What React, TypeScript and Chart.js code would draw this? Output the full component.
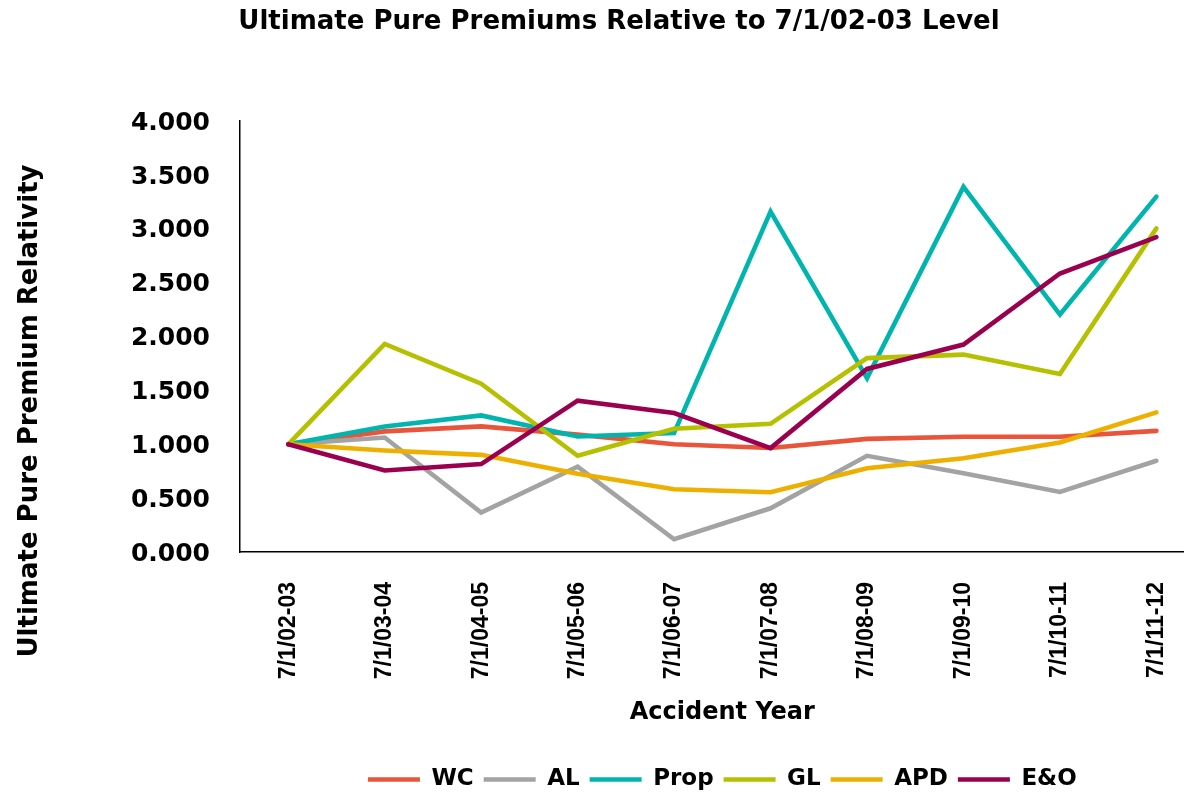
import React, { useEffect, useRef } from "react";
import { Chart, registerables } from "chart.js";

Chart.register(...registerables);

const chartTitle = "Ultimate Pure Premiums Relative to 7/1/02-03 Level";
const yAxisTitle = "Ultimate Pure Premium Relativity";
const xAxisTitle = "Accident Year";

const categories = [
  "7/1/02-03",
  "7/1/03-04",
  "7/1/04-05",
  "7/1/05-06",
  "7/1/06-07",
  "7/1/07-08",
  "7/1/08-09",
  "7/1/09-10",
  "7/1/10-11",
  "7/1/11-12",
];

const seriesNames = ["WC", "AL", "Prop", "GL", "APD", "E&O"];
const wcValues = [1.0, 1.12, 1.166, 1.09, 1.0, 0.965, 1.05, 1.07, 1.07, 1.125];
const alValues = [1.0, 1.063, 0.366, 0.793, 0.118, 0.406, 0.893, 0.732, 0.558, 0.847];
const propValues = [1.0, 1.166, 1.268, 1.073, 1.104, 3.16, 1.615, 3.39, 2.205, 3.3];
const glValues = [1.0, 1.932, 1.563, 0.893, 1.144, 1.19, 1.8, 1.833, 1.653, 3.005];
const apdValues = [1.0, 0.943, 0.902, 0.726, 0.583, 0.555, 0.778, 0.871, 1.017, 1.296];
const eoValues = [1.0, 0.757, 0.816, 1.405, 1.29, 0.965, 1.7, 1.926, 2.586, 2.924];
const seriesColors = ["#E8553A", "#A3A3A3", "#00B5AE", "#B5C100", "#EEB000", "#9B004F"];

const yMin = 0;
const yMax = 4;
const yStep = 0.5;

const yTitlePlugin = {
  id: "yTitleCustom",
  afterDraw(chart: any) {
    const ctx = chart.ctx;
    ctx.save();
    ctx.translate(30, 411);
    ctx.rotate(-Math.PI / 2);
    ctx.font = 'bold 26px "DejaVu Sans"';
    ctx.fillStyle = "#000";
    ctx.textAlign = "center";
    ctx.textBaseline = "middle";
    ctx.fillText(yAxisTitle, 0, 0);
    ctx.restore();
  },
};

export default function App() {
  const canvasRef = useRef<HTMLCanvasElement | null>(null);

  useEffect(() => {
    const canvas = canvasRef.current;
    if (!canvas) return;
    const allValues = [wcValues, alValues, propValues, glValues, apdValues, eoValues];
    const datasets = seriesNames.map((name, i) => ({
      label: name,
      data: allValues[i],
      borderColor: seriesColors[i],
      backgroundColor: seriesColors[i],
      borderWidth: 4.6,
      borderCapStyle: "round" as const,
      borderJoinStyle: "miter" as const,
      pointRadius: 0,
      pointHoverRadius: 0,
      tension: 0,
      fill: false,
      order: seriesNames.length - i,
    }));

    const chart = new Chart(canvas, {
      type: "line",
      data: { labels: categories, datasets },
      plugins: [yTitlePlugin],
      options: {
        responsive: false,
        animation: false,
        events: [],
        layout: { padding: { left: 24, right: 0, top: 0, bottom: -8 } },
        plugins: {
          title: {
            display: true,
            text: chartTitle,
            color: "#000",
            font: { family: "DejaVu Sans", size: 26, weight: "bold" },
            padding: { top: 7, bottom: 83 },
          },
          legend: {
            position: "bottom",
            fullSize: false,
            labels: {
              usePointStyle: true,
              pointStyle: "line",
              pointStyleWidth: 52,
              color: "#000",
              padding: 10,
              font: { family: "DejaVu Sans", size: 23, weight: "bold" },
              sort: (a: any, b: any) => a.datasetIndex - b.datasetIndex,
            },
          },
          tooltip: { enabled: false },
        },
        scales: {
          x: {
            type: "category",
            offset: true,
            grid: { display: false, drawTicks: false },
            border: { display: true, color: "#000", width: 1.5 },
            ticks: {
              autoSkip: false,
              minRotation: 90,
              maxRotation: 90,
              padding: 30,
              color: "#000",
              font: { family: "'Liberation Sans', Arial", size: 23, weight: "bold" },
            },
            title: {
              display: true,
              text: xAxisTitle,
              color: "#000",
              font: { family: "DejaVu Sans", size: 24, weight: "bold" },
              padding: { top: 0, bottom: 31 },
            },
            afterFit: (scale: any) => {
              scale.height = 206;
            },
          },
          y: {
            min: yMin,
            max: yMax,
            grid: { display: false, drawTicks: false },
            border: { display: true, color: "#000", width: 1.5 },
            ticks: {
              stepSize: yStep,
              padding: 30,
              labelOffset: 2,
              color: "#000",
              font: { family: "DejaVu Sans", size: 25, weight: "bold" },
              callback: (v: any) => Number(v).toFixed(3),
            },
            afterFit: (scale: any) => {
              scale.width = 216;
            },
          },
        },
      },
    });
    return () => chart.destroy();
  }, []);

  return (
    <div
      style={{
        position: "fixed",
        left: 0,
        top: 0,
        width: 1184,
        height: 793,
        overflow: "hidden",
        background: "#fff",
      }}
    >
      <canvas ref={canvasRef} width={1214} height={793} style={{ display: "block", width: 1214, height: 793 }} />
    </div>
  );
}
